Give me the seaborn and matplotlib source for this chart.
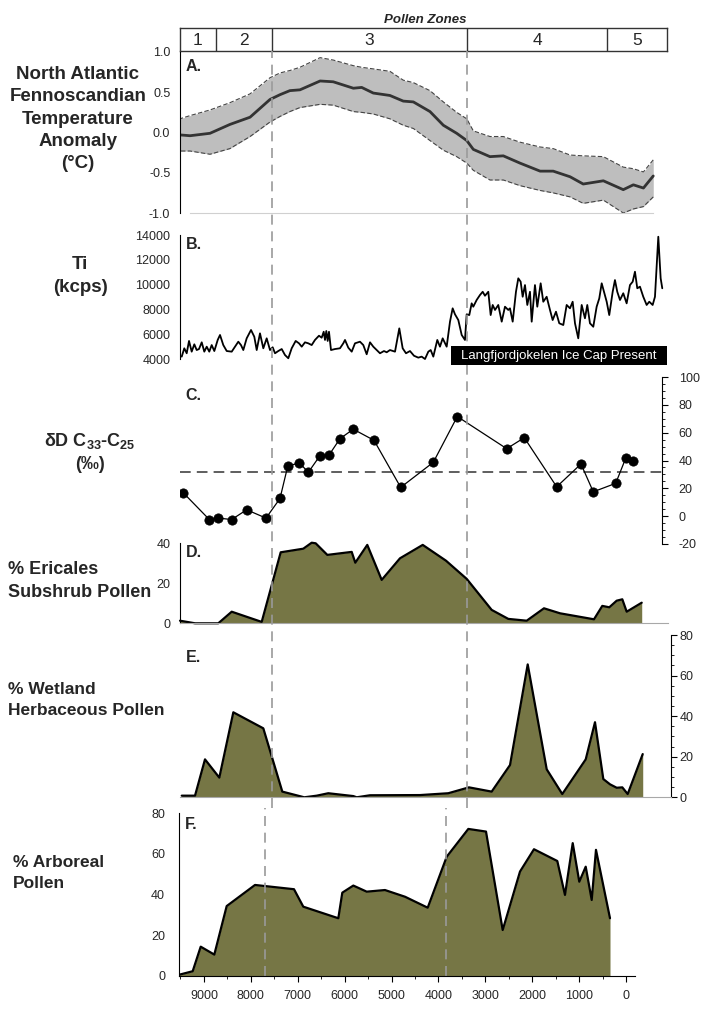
import numpy as np
import pandas as pd
import matplotlib
matplotlib.use("Agg")
import matplotlib.pyplot as plt
import seaborn as sns
from matplotlib.ticker import MultipleLocator, FixedLocator, FuncFormatter
from matplotlib.patches import Rectangle

# ---------------- data ----------------
zone_labels = ["1", "2", "3", "4", "5"]
zone_bounds = [8820, 7700, 3845, 1050]
zone_lines = [7700, 3845]

temp_age = [9530, 9330, 8935, 8540, 8140, 7745, 7545, 7350, 7150, 6750,
            6490, 6090, 5925, 5695, 5365, 5100, 4900, 4570, 4305, 4040,
            3840, 3710, 3380, 3115, 2785, 2385, 2125, 1790, 1530, 1130,
            735, 535, 335, 140]
temp_mean = [-0.03, -0.04, -0.01, 0.10, 0.19, 0.41, 0.47, 0.52, 0.53, 0.64,
             0.63, 0.55, 0.56, 0.49, 0.46, 0.39, 0.38, 0.26, 0.09, -0.01,
             -0.10, -0.21, -0.30, -0.29, -0.38, -0.48, -0.48, -0.55, -0.64, -0.60,
             -0.71, -0.65, -0.69, -0.54]
temp_upper = [0.17, 0.21, 0.28, 0.37, 0.48, 0.68, 0.74, 0.77, 0.81, 0.93,
              0.90, 0.83, 0.81, 0.79, 0.76, 0.65, 0.62, 0.52, 0.38, 0.25,
              0.17, 0.02, -0.05, -0.05, -0.12, -0.18, -0.20, -0.28, -0.29, -0.30,
              -0.43, -0.45, -0.49, -0.34]
temp_lower = [-0.23, -0.23, -0.27, -0.20, -0.05, 0.13, 0.20, 0.26, 0.31, 0.35,
              0.34, 0.26, 0.25, 0.23, 0.17, 0.09, 0.05, -0.10, -0.22, -0.30,
              -0.38, -0.47, -0.59, -0.59, -0.66, -0.72, -0.75, -0.80, -0.88, -0.84,
              -1.0, -0.95, -0.92, -0.80]

ti_age = [9496, 9445, 9397, 9351, 9298, 9246, 9199, 9153, 9099, 9048,
          9000, 8949, 8901, 8849, 8782, 8736, 8671, 8603, 8504, 8439,
          8373, 8320, 8274, 8207, 8121, 8056, 8008, 7943, 7877, 7810,
          7744, 7691, 7645, 7580, 7512, 7447, 7381, 7314, 7235, 7169,
          7115, 7050, 6985, 6917, 6852, 6772, 6719, 6679, 6653, 6627,
          6600, 6574, 6534, 6455, 6356, 6290,
          6256, 6191, 6123, 6058,
          5959, 5893, 5826, 5760, 5695, 5627, 5562, 5483, 5429, 5364,
          5264, 5179, 5112, 5046, 4967, 4887, 4802, 4735, 4669, 4603,
          4556, 4504, 4425, 4372, 4318, 4239, 4173, 4120, 4074, 4008,
          3941, 3876, 3842, 3790, 3743, 3711, 3644, 3578, 3524, 3479,
          3413, 3366, 3326, 3280, 3215, 3147, 3082, 3017,
          2983, 2929, 2864, 2818, 2771, 2731, 2685, 2639, 2586, 2552,
          2487, 2441, 2374, 2322, 2255, 2189, 2136, 2070, 2005, 1925,
          1858, 1792, 1739, 1693, 1628, 1560, 1495, 1449, 1396, 1330,
          1263, 1211, 1163, 1118, 1064, 1013, 945, 900, 854, 800,
          735, 668, 602, 548, 503, 457, 404, 338, 271, 219,
          152, 106, 40, -7, -39]
ti_val = [4230, 4900, 4500, 5490, 4630, 5220, 4760, 4840, 5380, 4630,
          5030, 4630, 5160, 4680, 5570, 5970, 5160, 4680, 4630, 5030,
          5430, 5160, 4760, 5700, 6370, 5830, 4760, 6100, 4900, 5700,
          4760, 4980, 4500, 4680, 4840, 4360, 4100, 4900, 5490, 5300,
          5030, 5380, 5300, 5160, 5570, 5910, 5750, 6230, 5570, 6290,
          5490, 6230, 4760, 4840, 4900, 5300,
          5570, 4950, 4630, 5300,
          5430, 5160, 4420, 5380, 5030, 4760, 4500, 4680, 4580, 4760,
          4630, 6500, 4900, 4500, 4680, 4300, 4150, 4230, 4040, 4630,
          4760, 4230, 5570, 5030, 5700, 5030, 7040, 8110, 7630, 7170,
          5970, 5570, 7630, 7570, 8510, 8240, 8780, 9180, 9440, 9120,
          9440, 7570, 8380, 7980, 8380, 7040, 8240, 7980,
          8110, 7040, 9440, 10520, 10250, 9040, 9980, 8380, 9440, 7040,
          9980, 8240, 10120, 8640, 9040, 7980, 7170, 7840, 6910, 6770,
          8380, 8110, 8640, 6910, 5700, 8380, 7310, 8380, 6910, 6630,
          8240, 8910, 10120, 9440, 8640, 7570, 9440, 10380, 9440, 8780,
          9320, 8510, 9980, 10250, 11050, 9720, 9850, 9040, 8380, 8640,
          8380, 9040, 13860, 10520, 9720]

dd_age = [9465, 8949, 8770, 8504, 8207, 7824, 7546, 7393, 7163, 6984,
          6752, 6568, 6355, 6092, 5681, 5151, 4504, 4028, 3048, 2699,
          2056, 1574, 1330, 885, 687, 536]
dd_val = [16.8, -2.4, -1.4, -2.4, 4.6, -1.4, 12.7, 35.8, 38.4, 31.5,
          43.5, 44.2, 55.7, 62.5, 54.5, 20.7, 38.7, 71.6, 48.5, 56.4,
          21.1, 37.5, 17.5, 23.6, 41.6, 39.6]
dd_ref = 31.5

eric_age = [9530, 9232, 8770, 8504, 7909, 7532, 7084, 6917, 6838, 6607,
            6123, 6052, 5814, 5528, 5165, 4714, 4252, 3841, 3346, 3016,
            2651, 2308, 1990, 1316, 1151, 1012, 866, 754, 667, 369]
eric_val = [1.3, 0, 0, 5.8, 0.7, 35.5, 37.3, 40.3, 40, 34.2,
            35.7, 30.3, 39.2, 21.7, 32.5, 39.2, 31.3, 22.2, 6.7, 2.2,
            1.3, 7.5, 5, 2, 8.7, 8, 11.3, 12, 5.8, 10.3]

wet_age = [9496, 9232, 9034, 8750, 8472, 7877, 7500, 7064, 6818, 6588,
           6091, 6024, 5760, 4768, 4207, 3796, 3346, 2982, 2631, 2254,
           1945, 1480, 1296, 1131, 998, 865, 754, 647, 349]
wet_val = [0.8, 0.8, 18.7, 9.7, 41.9, 34, 2.8, 0, 0.8, 2,
           0.6, 0, 1, 1.1, 2, 4.9, 2.8, 15.9, 65.5, 13.8,
           1.6, 18.7, 37, 9, 6.4, 4.7, 4.9, 1.6, 21.3]

arb_age = [9524, 9239, 9068, 8778, 8514, 7910, 7079, 6881, 6134, 6049,
           5814, 5529, 5139, 4712, 4228, 3823, 3362, 2985, 2629, 2260,
           1962, 1465, 1301, 1136, 996, 859, 731, 640, 341]
arb_val = [0.5, 2.2, 14.3, 10.4, 34.3, 44.7, 42.6, 34, 28.3, 40.9,
           44.4, 41.4, 42.2, 38.9, 33.5, 58.6, 72.3, 71, 22.5, 51.3,
           62.3, 56.5, 39.8, 65.3, 46.3, 53.7, 37.3, 62, 28.3]

x_ticks = [9000, 8000, 7000, 6000, 5000, 4000, 3000, 2000, 1000, 0]

# ---------------- style ----------------
sns.set_style("white")
plt.rcParams["font.family"] = ["Liberation Sans", "DejaVu Sans"]
plt.rcParams["axes.unicode_minus"] = False
plt.rcParams["mathtext.fontset"] = "custom"
plt.rcParams["mathtext.rm"] = "Liberation Sans"
plt.rcParams["mathtext.bf"] = "Liberation Sans:bold"
plt.rcParams["mathtext.default"] = "bf"

OLIVE = "#767645"
ZGRAY = "#9a9a9a"
W, H = 709, 1034
fig = plt.figure(figsize=(W / 100, H / 100), dpi=100)


def rect(x0, y0, x1, y1):
    return [x0 / W, 1 - y1 / H, (x1 - x0) / W, (y1 - y0) / H]


AGE_LEFT = 9530
UP = 0.0504   # px per year, panels A-E
LOW = 0.0469  # px per year, panel F


def up_xlim(x0, x1):
    return (AGE_LEFT - (x0 - 180) / UP, AGE_LEFT - (x1 - 180) / UP)


def new_ax(x0, y0, x1, y1, xl):
    ax = fig.add_axes(rect(x0, y0, x1, y1))
    ax.set_facecolor("none")
    ax.set_xlim(*xl)
    for s in ax.spines.values():
        s.set_visible(False)
    ax.set_xticks([])
    ax.tick_params(axis="y", which="major", direction="out", length=4, width=0.8,
                   labelsize=9, color="black", pad=3)
    ax.tick_params(axis="y", which="minor", direction="out", length=2, width=0.6,
                   color="black")
    ax.grid(False)
    return ax


def panel_letter(ax, s, y=0.92):
    ax.text(0.012, y, s, transform=ax.transAxes, fontsize=11.5, fontweight="bold",
            ha="left", va="center")


# ---------------- pollen zones ----------------
axZ = new_ax(180, 28, 667, 51, up_xlim(180, 667))
axZ.set_ylim(0, 1)
axZ.set_yticks([])
for s in axZ.spines.values():
    s.set_visible(True)
    s.set_color("#333333")
    s.set_linewidth(1.0)
for b in zone_bounds:
    axZ.axvline(b, color="#333333", lw=1.0)
edges = [axZ.get_xlim()[0]] + zone_bounds + [axZ.get_xlim()[1]]
for i, lab in enumerate(zone_labels):
    axZ.text((edges[i] + edges[i + 1]) / 2, 0.45, lab, ha="center", va="center",
             fontsize=12.5)
fig.text(425 / W, 1 - 20 / H, "Pollen Zones", ha="center", va="center",
         fontsize=9.5, fontweight="bold", style="italic")

# ---------------- A ----------------
axA = new_ax(180, 52, 667, 213, up_xlim(180, 667))
axA.set_ylim(-1, 1)
axA.fill_between(temp_age, temp_lower, temp_upper, color="#bebebe", lw=0)
sns.lineplot(x=temp_age, y=temp_upper, ax=axA, color="#444444", lw=0.8,
             linestyle=(0, (4, 2)), errorbar=None)
sns.lineplot(x=temp_age, y=temp_lower, ax=axA, color="#444444", lw=0.8,
             linestyle=(0, (4, 2)), errorbar=None)
sns.lineplot(x=temp_age, y=temp_mean, ax=axA, color="#333333", lw=2.0, errorbar=None)
axA.spines["left"].set_visible(True)
axA.spines["left"].set_color("black")
axA.spines["bottom"].set_visible(True)
axA.spines["bottom"].set_color("#d0d0d0")
axA.spines["bottom"].set_bounds(temp_age[1], temp_age[-1])
axA.yaxis.set_major_locator(MultipleLocator(0.5))
axA.yaxis.set_minor_locator(MultipleLocator(0.1))
axA.yaxis.set_major_formatter(FuncFormatter(lambda v, p: f"{v:.1f}"))
axA.set_xlabel("")
axA.set_ylabel("")
panel_letter(axA, "A.", 0.91)

# ---------------- B ----------------
axB = new_ax(180, 235, 667, 359.5, up_xlim(180, 667))
axB.set_ylim(4000, 14000)
sns.lineplot(x=ti_age, y=ti_val, ax=axB, color="black", lw=1.3, errorbar=None)
axB.spines["left"].set_visible(True)
axB.spines["left"].set_color("black")
axB.yaxis.set_major_locator(MultipleLocator(2000))
axB.yaxis.set_minor_locator(MultipleLocator(500))
axB.set_xlabel("")
axB.set_ylabel("")
panel_letter(axB, "B.", 0.92)

# ---------------- C ----------------
axC = new_ax(180, 377, 662, 544, up_xlim(180, 662))
axC.set_ylim(-20, 100)
axC.axhline(dd_ref, color="#333333", lw=1.1, linestyle=(0, (7, 4)))
sns.lineplot(x=dd_age, y=dd_val, ax=axC, color="black", lw=0.9, errorbar=None)
sns.scatterplot(x=dd_age, y=dd_val, ax=axC, color="black", s=45, edgecolor="black",
                linewidth=0.5, zorder=4)
axC.yaxis.tick_right()
axC.spines["right"].set_visible(True)
axC.spines["right"].set_color("black")
axC.yaxis.set_major_locator(MultipleLocator(20))
axC.yaxis.set_minor_locator(MultipleLocator(5))
axC.tick_params(axis="y", which="major", pad=8)
axC.set_xlabel("")
axC.set_ylabel("")
panel_letter(axC, "C.", 0.89)

# ---------------- D ----------------
axD = new_ax(180, 543.3, 668, 623.3, up_xlim(180, 668))
axD.set_ylim(0, 40)
axD.fill_between(eric_age, 0, eric_val, color=OLIVE, lw=0)
sns.lineplot(x=eric_age, y=eric_val, ax=axD, color="black", lw=1.6, errorbar=None)
for ln in axD.lines:
    ln.set_clip_on(False)
axD.spines["left"].set_visible(True)
axD.spines["left"].set_color("black")
axD.spines["bottom"].set_visible(True)
axD.spines["bottom"].set_color("#a8a8a8")
axD.yaxis.set_major_locator(MultipleLocator(20))
axD.yaxis.set_minor_locator(MultipleLocator(5))
axD.set_xlabel("")
axD.set_ylabel("")
panel_letter(axD, "D.", 0.88)

# ---------------- E ----------------
axE = new_ax(180, 635, 671, 797.3, up_xlim(180, 671))
axE.set_ylim(0, 80)
axE.fill_between(wet_age, 0, wet_val, color=OLIVE, lw=0)
sns.lineplot(x=wet_age, y=wet_val, ax=axE, color="black", lw=1.6, errorbar=None)
axE.yaxis.tick_right()
axE.spines["right"].set_visible(True)
axE.spines["right"].set_color("black")
axE.spines["bottom"].set_visible(True)
axE.spines["bottom"].set_color("#a8a8a8")
axE.yaxis.set_major_locator(MultipleLocator(20))
axE.yaxis.set_minor_locator(MultipleLocator(5))
axE.tick_params(axis="y", which="major", pad=2)
axE.set_xlabel("")
axE.set_ylabel("")
panel_letter(axE, "E.", 0.86)

# ---------------- F ----------------
f_left = (626 - 179) / LOW
f_right = (626 - 635) / LOW
axF = new_ax(179, 813.3, 635, 975.7, (f_left, f_right))
axF.set_ylim(0, 80)
axF.fill_between(arb_age, 0, arb_val, color=OLIVE, lw=0)
sns.lineplot(x=arb_age, y=arb_val, ax=axF, color="black", lw=1.6, errorbar=None)
axF.spines["left"].set_visible(True)
axF.spines["left"].set_color("black")
axF.spines["bottom"].set_visible(True)
axF.spines["bottom"].set_color("black")
axF.yaxis.set_major_locator(MultipleLocator(20))
axF.yaxis.set_minor_locator(MultipleLocator(5))
axF.xaxis.set_major_locator(FixedLocator(x_ticks))
axF.xaxis.set_minor_locator(MultipleLocator(500))
axF.tick_params(axis="x", which="major", direction="out", length=4, width=0.8,
                labelsize=9, color="black", pad=6, bottom=True)
axF.tick_params(axis="x", which="minor", direction="out", length=2, width=0.6,
                color="black", bottom=True)
axF.tick_params(axis="y", which="major", pad=6)
axF.set_ylabel("")
axF.set_xlabel("Age (cal yr BP)", fontsize=11.5, fontweight="bold", labelpad=9)
panel_letter(axF, "F.", 0.93)

# ---------------- zone dashed lines ----------------
axL = fig.add_axes(rect(180, 51, 667, 808))
axL.set_facecolor("none")
axL.set_axis_off()
axL.set_xlim(*up_xlim(180, 667))
axL.set_ylim(0, 1)
for a in zone_lines:
    axL.axvline(a, color=ZGRAY, lw=1.2, linestyle=(0, (6, 4)))
for a in zone_lines:
    axF.axvline(a, ymin=0, ymax=1 + (813.3 - 808) / 162.4, color=ZGRAY, lw=1.2,
                linestyle=(0, (6, 4)), clip_on=False)

# ---------------- ice cap box (on top of dashed lines) ----------------
fig.add_artist(Rectangle((451 / W, 1 - 365 / H), 216 / W, 19 / H,
                         transform=fig.transFigure, facecolor="black",
                         edgecolor="none", zorder=5))
fig.text(559 / W, 1 - 355.5 / H, "Langfjordjokelen Ice Cap Present",
         ha="center", va="center", color="white", fontsize=9.5, zorder=6)

# ---------------- left labels ----------------
fig.text(78 / W, 1 - 119 / H, "North Atlantic\nFennoscandian\nTemperature\nAnomaly\n(°C)",
         ha="center", va="center", fontsize=13.5, fontweight="bold", linespacing=1.4)
fig.text(80 / W, 1 - 276 / H, "Ti\n(kcps)", ha="center", va="center",
         fontsize=13.5, fontweight="bold", linespacing=1.4)
fig.text(90 / W, 1 - 452 / H, "δD C$_{33}$-C$_{25}$\n(‰)", ha="center", va="center",
         fontsize=13, fontweight="bold", linespacing=1.46)
fig.text(8 / W, 1 - 581 / H, "% Ericales\nSubshrub Pollen", ha="left", va="center",
         fontsize=13, fontweight="bold", linespacing=1.46)
fig.text(8 / W, 1 - 700 / H, "% Wetland\nHerbaceous Pollen", ha="left", va="center",
         fontsize=12.5, fontweight="bold", linespacing=1.53)
fig.text(13 / W, 1 - 873 / H, "% Arboreal\nPollen", ha="left", va="center",
         fontsize=12.5, fontweight="bold", linespacing=1.53)

fig.savefig("out.png", dpi=100)
